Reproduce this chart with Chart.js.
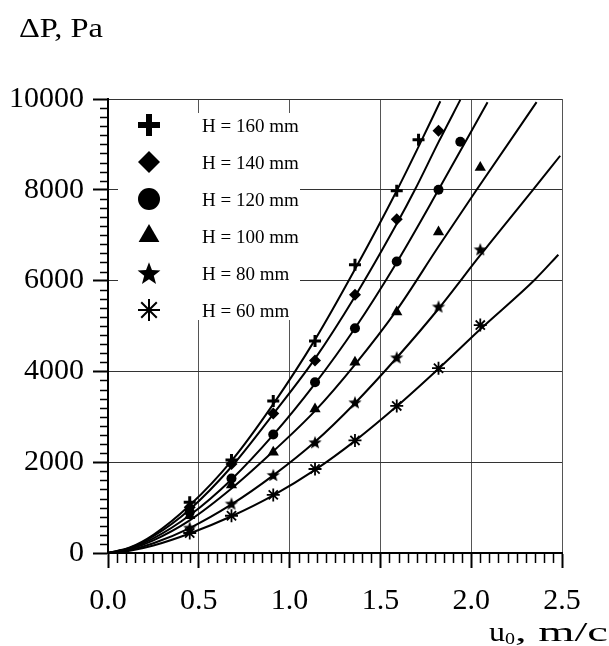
<!DOCTYPE html>
<html>
<head>
<meta charset="utf-8">
<script src="https://cdn.jsdelivr.net/npm/chart.js@4.4.1/dist/chart.umd.min.js"></script>
<style>
  html, body { margin: 0; padding: 0; background: #fff; }
  #wrap { width: 609px; height: 646px; position: relative; }
</style>
</head>
<body>
<div id="wrap"><canvas id="chart" width="609" height="646"></canvas></div>
<script>
// measured points, u0 (m/c) and dP (Pa)
const u160 = [0.45, 0.68, 0.91, 1.14, 1.36, 1.59, 1.71];
const p160 = [1120, 2050, 3350, 4670, 6350, 7980, 9100];
const u140 = [0.45, 0.68, 0.91, 1.14, 1.36, 1.59, 1.82];
const p140 = [1010, 1960, 3070, 4240, 5690, 7350, 9300];
const u120 = [0.45, 0.68, 0.91, 1.14, 1.36, 1.59, 1.82, 1.94];
const p120 = [900, 1640, 2610, 3760, 4950, 6420, 8000, 9060];
const u100 = [0.45, 0.68, 0.91, 1.14, 1.36, 1.59, 1.82, 2.05];
const p100 = [820, 1500, 2220, 3170, 4200, 5310, 7070, 8490];
const u80 = [0.45, 0.68, 0.91, 1.14, 1.36, 1.59, 1.82, 2.05];
const p80 = [560, 1090, 1720, 2440, 3320, 4310, 5430, 6690];
const u60 = [0.45, 0.68, 0.91, 1.14, 1.36, 1.59, 1.82, 2.05];
const p60 = [440, 820, 1280, 1850, 2480, 3240, 4070, 5020];

// fitted curves
const cu160 = [0, 0.12, 0.25, 0.45, 0.68, 0.91, 1.14, 1.36, 1.59, 1.71, 1.83];
const cp160 = [0, 120, 400, 1050, 2030, 3280, 4700, 6250, 7980, 8950, 9950];
const cu140 = [0, 0.12, 0.25, 0.45, 0.68, 0.91, 1.14, 1.36, 1.59, 1.69, 1.82, 1.94];
const cp140 = [0, 110, 370, 960, 1900, 3060, 4280, 5650, 7250, 8000, 9050, 9980];
const cu120 = [0, 0.12, 0.25, 0.45, 0.68, 0.91, 1.14, 1.36, 1.59, 1.82, 2.09];
const cp120 = [0, 100, 320, 830, 1620, 2600, 3730, 4950, 6400, 8000, 9930];
const cu100 = [0, 0.12, 0.25, 0.45, 0.68, 0.91, 1.14, 1.36, 1.59, 1.82, 2.03, 2.36];
const cp100 = [0, 85, 280, 720, 1420, 2240, 3130, 4150, 5350, 6750, 8000, 9930];
const cu80 = [0, 0.12, 0.25, 0.45, 0.68, 0.91, 1.14, 1.36, 1.59, 1.82, 2.05, 2.34, 2.49];
const cp80 = [0, 65, 215, 550, 1070, 1710, 2450, 3300, 4300, 5380, 6560, 8000, 8750];
const cu60 = [0, 0.12, 0.25, 0.45, 0.68, 0.91, 1.14, 1.36, 1.59, 1.82, 2.05, 2.35, 2.48];
const cp60 = [0, 50, 165, 430, 810, 1270, 1830, 2470, 3230, 4060, 4930, 6020, 6570];

const labels = ['H = 160 mm', 'H = 140 mm', 'H = 120 mm', 'H = 100 mm', 'H = 80 mm', 'H = 60 mm'];
const xTicks = [0, 0.5, 1.0, 1.5, 2.0, 2.5];
const yTicks = [0, 2000, 4000, 6000, 8000, 10000];

const SERIF = "'Liberation Serif', 'Times New Roman', serif";

function starCanvas(r) {
  const s = Math.ceil(r * 2 + 2);
  const c = document.createElement('canvas');
  c.width = s; c.height = s;
  const g = c.getContext('2d');
  g.fillStyle = '#000';
  g.beginPath();
  for (let i = 0; i < 10; i++) {
    const rr = i % 2 ? r * 0.42 : r;
    const a = -Math.PI / 2 + i * Math.PI / 5;
    g.lineTo(s / 2 + rr * Math.cos(a), s / 2 + r * 0.1 + rr * Math.sin(a));
  }
  g.closePath();
  g.fill();
  return c;
}

const toXY = (xs, ys) => xs.map((x, i) => ({ x: x, y: ys[i] }));

const curves = [[cu160, cp160], [cu140, cp140], [cu120, cp120], [cu100, cp100], [cu80, cp80], [cu60, cp60]];
const points = [[u160, p160], [u140, p140], [u120, p120], [u100, p100], [u80, p80], [u60, p60]];

// marker looks: style, radius, border width (data / legend)
const marks = [
  { style: 'cross', r: 6, bw: 3, lr: 11, lbw: 6 },
  { style: 'rectRot', r: 6, bw: 0, lr: 11, lbw: 0 },
  { style: 'circle', r: 5, bw: 0, lr: 11, lbw: 0 },
  { style: 'triangle', r: 6.5, bw: 0, lr: 12, lbw: 0 },
  { style: starCanvas(7), r: 7, bw: 0, lr: 11, lbw: 0, big: starCanvas(12) },
  { style: 'star', r: 6.5, bw: 1.8, lr: 11, lbw: 2 }
];

const datasets = [];
curves.forEach(([xs, ys]) => {
  datasets.push({
    data: toXY(xs, ys), showLine: true, pointRadius: 0,
    borderColor: '#000', borderWidth: 2, cubicInterpolationMode: 'monotone'
  });
});
points.forEach(([xs, ys], i) => {
  const m = marks[i];
  datasets.push({
    data: toXY(xs, ys), showLine: false,
    pointStyle: m.style, pointRadius: m.r, pointBorderWidth: m.bw,
    pointBackgroundColor: '#000', pointBorderColor: '#000'
  });
});

// text stretched to the width it has in the picture
function wideText(ctx, txt, x, y, w) {
  const k = w / ctx.measureText(txt).width;
  ctx.save();
  ctx.translate(x, y);
  ctx.scale(k, 1);
  ctx.fillText(txt, 0, 0);
  ctx.restore();
  return w;
}

const extras = {
  id: 'extras',
  afterDraw(chart) {
    const ctx = chart.ctx;
    const xs = chart.scales.x, ys = chart.scales.y;
    const ca = chart.chartArea;
    ctx.save();
    // minor ticks
    ctx.strokeStyle = '#000';
    ctx.lineWidth = 1.5;
    ctx.beginPath();
    for (let k = 1; k < 50; k++) {
      if (k % 10 === 0) continue;
      const px = Math.round(xs.getPixelForValue(k * 0.05)) + 0.5;
      ctx.moveTo(px, ca.bottom);
      ctx.lineTo(px, ca.bottom + 10);
    }
    for (let k = 1; k < 50; k++) {
      if (k % 10 === 0) continue;
      const py = Math.round(ys.getPixelForValue(k * 200)) + 0.5;
      ctx.moveTo(ca.left, py);
      ctx.lineTo(ca.left - 8, py);
    }
    ctx.stroke();

    // legend
    ctx.fillStyle = '#fff';
    ctx.fillRect(118, 113, 182, 207);
    ctx.fillStyle = '#000';
    ctx.font = '19px ' + SERIF;
    ctx.textBaseline = 'alphabetic';
    ctx.textAlign = 'left';
    labels.forEach((lab, i) => {
      const m = marks[i];
      const y = 125 + i * 37;
      ctx.lineWidth = m.lbw;
      Chart.helpers.drawPoint(ctx, {
        pointStyle: m.big || m.style, radius: m.lr, borderWidth: m.lbw, rotation: 0
      }, 149, y);
      ctx.fillText(lab, 202, y + 7);
    });

    // axis titles
    ctx.font = '27px ' + SERIF;
    wideText(ctx, '\u0394P, Pa', 19, 37, 84);
    let tx = 489, ty = 641;
    tx += wideText(ctx, 'u', tx, ty, 16);
    ctx.font = '17px ' + SERIF;
    tx += wideText(ctx, '0', tx, ty + 3, 10);
    ctx.font = '27px ' + SERIF;
    wideText(ctx, ', m/c', tx, ty, 608 - tx);
    ctx.restore();
  }
};

new Chart(document.getElementById('chart'), {
  type: 'scatter',
  data: { datasets: datasets },
  options: {
    responsive: false,
    animation: false,
    layout: { padding: { left: 0, right: 47, top: 99, bottom: 0 } },
    plugins: { legend: { display: false }, tooltip: { enabled: false } },
    scales: {
      x: {
        type: 'linear', min: 0, max: 2.5,
        afterBuildTicks: s => { s.ticks = xTicks.map(v => ({ value: v })); },
        ticks: {
          callback: v => v.toFixed(1), color: '#000', padding: 15, maxRotation: 0,
          font: { family: SERIF, size: 30 }
        },
        grid: { color: '#555', lineWidth: 1, tickLength: 15, tickColor: '#000', tickWidth: 2 },
        border: { color: '#000', width: 2 },
        afterFit: s => { s.height = 93; }
      },
      y: {
        type: 'linear', min: 0, max: 10000,
        afterBuildTicks: s => { s.ticks = yTicks.map(v => ({ value: v })); },
        ticks: {
          callback: v => String(v), color: '#000', padding: 9,
          font: { family: SERIF, size: 30 }
        },
        grid: { color: '#333', lineWidth: 1, tickLength: 15, tickColor: '#000', tickWidth: 2 },
        border: { color: '#000', width: 2 },
        afterFit: s => { s.height = undefined; s.width = 108; }
      }
    }
  },
  plugins: [extras]
});
</script>
</body>
</html>
